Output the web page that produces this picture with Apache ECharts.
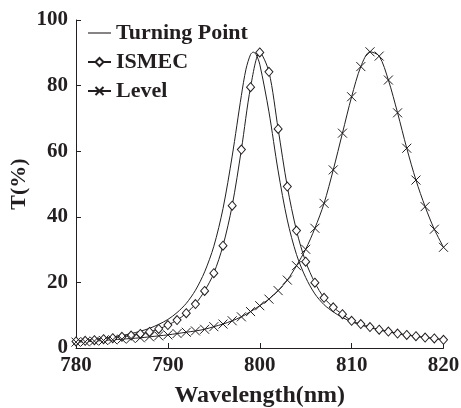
<!DOCTYPE html>
<html>
<head>
<meta charset="utf-8">
<script src="https://cdn.jsdelivr.net/npm/echarts@6/dist/echarts.min.js"></script>
<style>
html,body{margin:0;padding:0;background:#fff;}
#chart{width:461px;height:408px;}
</style>
</head>
<body>
<div id="chart"></div>
<script>
// Wavelength samples for the marker series (nm)
var wavelength = [780,781,782,783,784,785,786,787,788,789,790,791,792,793,794,795,796,797,798,799,800,801,802,803,804,805,806,807,808,809,810,811,812,813,814,815,816,817,818,819,820];
// ISMEC transmittance (%)
var ismec = [2.0,2.2,2.4,2.7,3.0,3.4,3.8,4.3,4.9,5.8,7.0,8.5,10.6,13.4,17.4,22.8,31.2,43.4,60.5,79.5,90.1,84.2,66.8,49.2,35.8,26.3,19.9,15.3,12.4,10.3,8.3,7.3,6.4,5.6,5.0,4.4,4.0,3.6,3.2,2.9,2.5];
// Level transmittance (%)
var level = [1.8,1.9,2.1,2.3,2.5,2.7,2.9,3.1,3.4,3.7,4.0,4.4,4.8,5.2,5.7,6.5,7.3,8.3,9.5,11.1,12.9,14.9,17.5,20.7,25.1,30.1,36.5,44.1,54.3,65.5,76.6,85.8,90.3,89.0,81.7,71.7,60.9,51.2,43.1,36.2,30.7];
// Turning Point curve (no markers)
var tpWavelength = [780,781,782,783,784,785,786,787,788,789,790,791,792,793,794,795,796,797,798,798.5,799,799.3,799.6,800,801,802,803,804,805,806,807,808,809,810,811,812,813,814,815,816,817,818,819,820];
var turningPoint = [2.1,2.4,2.7,3.0,3.4,3.8,4.4,5.1,6.0,7.2,8.7,10.8,13.6,17.6,23.2,31.0,42.5,58.5,77.0,85.0,89.5,90.2,89.5,86.5,72.0,54.0,39.0,28.5,21.5,16.5,13.2,11.0,9.3,8.0,7.0,6.2,5.5,4.9,4.4,4.0,3.6,3.2,2.9,2.5];
// Axis ticks
var xTicks = {min: 780, max: 820, interval: 10};
var yTicks = {min: 0, max: 100, interval: 20};

function zip(xs, ys){ return xs.map(function(x,i){ return [x, ys[i]]; }); }

var ink = '#231f20';
var font = 'Liberation Serif';
var chart = echarts.init(document.getElementById('chart'), null, {renderer:'canvas'});
chart.setOption({
  animation: false,
  backgroundColor: '#fff',
  grid: {left: 76, right: 17.5, top: 20, bottom: 60, containLabel: false, outerBoundsMode: 'none'},
  legend: {
    orient: 'vertical', left: 82, top: 17,
    itemWidth: 23, itemHeight: 10, itemGap: 7,
    textStyle: {fontFamily: font, fontWeight: 'bold', fontSize: 22, color: ink, lineHeight: 22},
    data: [
      {name: 'Turning Point', icon: 'path://M0,0L23,0L23,1.1L0,1.1Z', itemStyle: {color: ink}},
      'ISMEC', 'Level'
    ]
  },
  xAxis: {
    type: 'value', min: xTicks.min, max: xTicks.max, interval: xTicks.interval,
    name: 'Wavelength(nm)', nameLocation: 'middle', nameGap: 36, nameMoveOverlap: false,
    nameTextStyle: {fontFamily: font, fontWeight: 'bold', fontSize: 24, color: ink},
    axisLine: {lineStyle: {color: ink, width: 1}},
    axisTick: {inside: true, length: 5, lineStyle: {color: ink}},
    axisLabel: {fontFamily: font, fontWeight: 'bold', fontSize: 21, color: ink, margin: 7},
    splitLine: {show: false}
  },
  yAxis: {
    type: 'value', min: yTicks.min, max: yTicks.max, interval: yTicks.interval,
    name: 'T(%)', nameLocation: 'middle', nameGap: 46, nameMoveOverlap: false,
    nameTextStyle: {fontFamily: font, fontWeight: 'bold', fontSize: 22, color: ink},
    axisLine: {show: true, lineStyle: {color: ink, width: 1}},
    axisTick: {show: true, inside: true, length: 5, lineStyle: {color: ink}},
    axisLabel: {fontFamily: font, fontWeight: 'bold', fontSize: 21, color: ink, margin: 8},
    splitLine: {show: false}
  },
  series: [
    {
      name: 'Turning Point', type: 'line', smooth: 0.3, symbol: 'none',
      lineStyle: {color: ink, width: 1}, itemStyle: {color: ink},
      data: zip(tpWavelength, turningPoint)
    },
    {
      name: 'ISMEC', type: 'line', smooth: 0.3, symbol: 'diamond', symbolSize: [8, 9],
      lineStyle: {color: ink, width: 1},
      itemStyle: {color: '#fff', borderColor: ink, borderWidth: 1},
      data: zip(wavelength, ismec)
    },
    {
      name: 'Level', type: 'line', smooth: 0.3,
      symbol: 'path://M0,0L10,10M10,0L0,10', symbolSize: 9,
      lineStyle: {color: ink, width: 1},
      itemStyle: {color: 'none', borderColor: ink, borderWidth: 1},
      data: zip(wavelength, level)
    }
  ]
});
</script>
</body>
</html>
